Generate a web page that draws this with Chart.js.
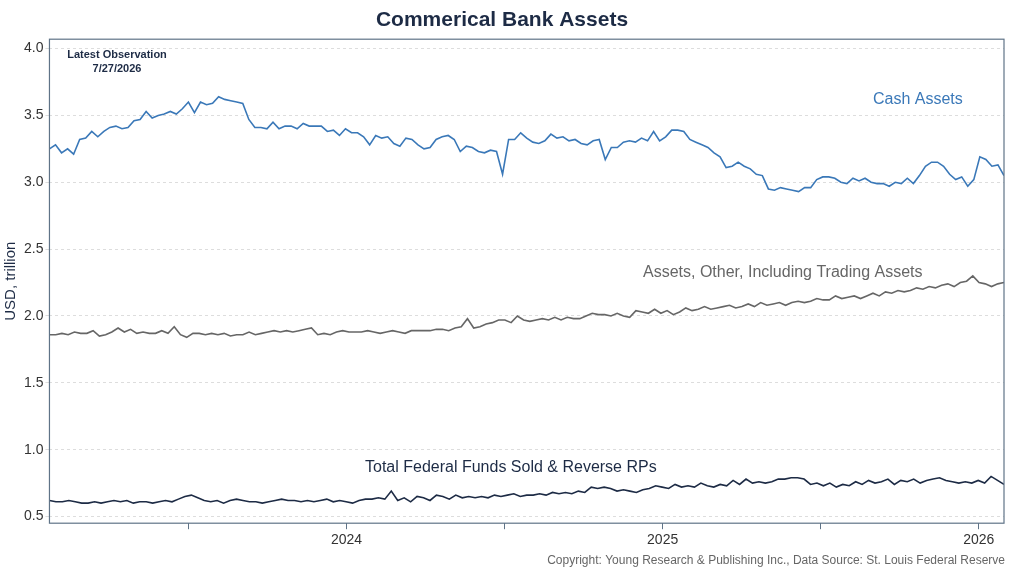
<!DOCTYPE html>
<html>
<head>
<meta charset="utf-8">
<script src="https://cdn.jsdelivr.net/npm/chart.js@4"></script>
<style>
  body { margin: 0; background: #fff; }
  #wrap { width: 1024px; height: 576px; }
</style>
</head>
<body>
<div id="wrap"><canvas id="bankChart" width="1024" height="576"></canvas></div>
<script>
// Weekly values, USD trillion
const cashAssets = [3.25,3.28,3.22,3.25,3.21,3.32,3.33,3.38,3.34,3.38,3.41,3.42,3.40,3.41,3.46,3.47,3.53,3.48,3.50,3.51,3.53,3.51,3.55,3.60,
  3.52,3.60,3.58,3.59,3.64,3.62,3.61,3.60,3.59,3.47,3.41,3.41,3.40,3.45,3.40,3.42,3.42,3.40,3.44,3.42,3.42,3.42,3.38,3.39,3.35,3.40,
  3.37,3.37,3.34,3.28,3.35,3.33,3.34,3.29,3.27,3.33,3.32,3.28,3.25,3.26,3.32,3.34,3.35,3.32,3.23,3.27,3.26,3.23,3.22,3.24,3.23,3.06,
  3.32,3.32,3.37,3.33,3.30,3.29,3.31,3.36,3.33,3.34,3.31,3.32,3.29,3.28,3.31,3.32,3.17,3.26,3.26,3.30,3.31,3.30,3.33,3.31,3.38,3.31,
  3.34,3.39,3.39,3.38,3.32,3.30,3.28,3.26,3.22,3.19,3.11,3.12,3.15,3.12,3.10,3.06,3.05,2.95,2.94,2.96,2.95,2.94,2.93,2.96,2.96,3.02,
  3.04,3.04,3.03,3.00,2.99,3.03,3.01,3.03,3.00,2.99,2.99,2.97,3.00,2.99,3.03,2.99,3.05,3.12,3.15,3.15,3.12,3.06,3.02,3.04,2.97,3.02,
  3.19,3.17,3.12,3.13,3.05];

const otherAssets = [1.86,1.86,1.87,1.86,1.88,1.87,1.87,1.89,1.85,1.86,1.88,1.91,1.88,1.90,1.87,1.88,1.87,1.87,1.89,1.87,1.92,1.86,1.84,1.87,
  1.87,1.86,1.87,1.86,1.87,1.85,1.86,1.86,1.88,1.86,1.87,1.88,1.89,1.88,1.89,1.88,1.89,1.90,1.91,1.86,1.87,1.86,1.88,1.89,1.88,1.88,
  1.88,1.89,1.88,1.87,1.88,1.89,1.88,1.87,1.89,1.89,1.89,1.89,1.90,1.90,1.89,1.91,1.92,1.98,1.91,1.92,1.94,1.95,1.97,1.97,1.95,2.00,
  1.97,1.96,1.97,1.98,1.97,1.99,1.97,1.99,1.98,1.98,2.00,2.02,2.01,2.01,2.00,2.02,2.00,1.99,2.04,2.03,2.02,2.05,2.02,2.04,2.01,2.03,
  2.06,2.04,2.05,2.07,2.05,2.06,2.07,2.08,2.06,2.07,2.09,2.07,2.10,2.08,2.09,2.10,2.08,2.10,2.11,2.10,2.11,2.13,2.12,2.12,2.15,2.13,
  2.14,2.15,2.13,2.15,2.17,2.15,2.18,2.17,2.19,2.18,2.19,2.21,2.20,2.22,2.21,2.23,2.24,2.22,2.25,2.26,2.30,2.25,2.24,2.22,2.24,2.25];

const fedFunds = [0.62,0.61,0.61,0.62,0.61,0.60,0.60,0.61,0.60,0.61,0.62,0.61,0.62,0.60,0.61,0.61,0.60,0.61,0.62,0.61,0.63,0.65,0.66,0.64,
  0.62,0.61,0.62,0.60,0.62,0.63,0.62,0.61,0.61,0.60,0.61,0.62,0.63,0.62,0.62,0.61,0.62,0.61,0.62,0.63,0.61,0.62,0.61,0.60,0.62,0.63,
  0.63,0.64,0.63,0.69,0.62,0.64,0.61,0.65,0.64,0.62,0.66,0.65,0.63,0.66,0.64,0.65,0.64,0.65,0.64,0.66,0.65,0.66,0.67,0.65,0.66,0.66,
  0.67,0.66,0.68,0.67,0.68,0.67,0.69,0.68,0.72,0.71,0.72,0.71,0.69,0.70,0.69,0.68,0.70,0.71,0.73,0.72,0.71,0.74,0.72,0.73,0.72,0.75,
  0.73,0.72,0.74,0.73,0.77,0.74,0.78,0.75,0.76,0.75,0.76,0.78,0.78,0.79,0.79,0.78,0.74,0.75,0.73,0.75,0.72,0.74,0.73,0.76,0.74,0.77,
  0.75,0.76,0.78,0.74,0.77,0.76,0.78,0.75,0.77,0.78,0.79,0.77,0.76,0.75,0.76,0.75,0.77,0.75,0.80,0.77,0.74];

// x axis in fractional years, each series spans the same dates
const xStart = 2023.06, xEnd = 2026.08;
function toPoints(values) {
  return values.map((v, i) => ({ x: xStart + i * (xEnd - xStart) / (values.length - 1), y: v }));
}

// labels, footer, observation note
const annotations = {
  id: 'annotations',
  afterDraw(chart) {
    const { ctx, chartArea } = chart;
    ctx.save();
    ctx.strokeStyle = '#5f7387';
    ctx.lineWidth = 1.2;
    ctx.strokeRect(chartArea.left, chartArea.top, chartArea.right - chartArea.left, chartArea.bottom - chartArea.top);
    ctx.font = '16px Arial, "Liberation Sans"';
    ctx.fillStyle = '#3a78b8';
    ctx.textAlign = 'left';
    ctx.fillText('Cash Assets', 873, 104);
    ctx.fillStyle = '#666';
    ctx.fillText('Assets, Other, Including Trading Assets', 643, 277);
    ctx.fillStyle = '#1d2b45';
    ctx.fillText('Total Federal Funds Sold & Reverse RPs', 365, 472);
    ctx.font = 'bold 11px Arial, "Liberation Sans"';
    ctx.textAlign = 'center';
    ctx.fillText('Latest Observation', 117, 58);
    ctx.fillText('7/27/2026', 117, 72);
    ctx.font = '12px Arial, "Liberation Sans"';
    ctx.fillStyle = '#666';
    ctx.textAlign = 'right';
    ctx.fillText('Copyright: Young Research & Publishing Inc., Data Source: St. Louis Federal Reserve', 1005, 564);
    ctx.restore();
  }
};

const lineStyle = { fill: false, pointRadius: 0, borderWidth: 1.6, tension: 0 };
new Chart(document.getElementById('bankChart').getContext('2d'), {
  type: 'line',
  data: {
    datasets: [
      { ...lineStyle, label: 'Cash Assets', data: toPoints(cashAssets), borderColor: '#3a78b8' },
      { ...lineStyle, label: 'Assets, Other', data: toPoints(otherAssets), borderColor: '#666666' },
      { ...lineStyle, label: 'Fed Funds', data: toPoints(fedFunds), borderColor: '#1d2b45' }
    ]
  },
  plugins: [annotations],
  options: {
    responsive: false,
    animation: false,
    layout: { padding: { left: 0, right: 20, top: 0, bottom: 24 } },
    plugins: {
      legend: { display: false },
      tooltip: { enabled: false },
      title: {
        display: true,
        text: 'Commerical Bank Assets',
        color: '#1d2b45',
        font: { size: 21, weight: 'bold', family: 'Arial, "Liberation Sans"' },
        padding: { top: 8, bottom: 6 }
      }
    },
    scales: {
      x: {
        type: 'linear',
        min: xStart, max: xEnd,
        afterBuildTicks(axis) {
          axis.ticks = [2023.5, 2024, 2024.5, 2025, 2025.5, 2026].map(v => ({ value: v }));
        },
        grid: { drawOnChartArea: false, drawTicks: true, tickLength: 6, color: '#5f7387' },
        border: { display: false },
        ticks: {
          color: '#333', font: { size: 14, family: 'Arial, "Liberation Sans"' },
          callback: v => Number.isInteger(v) ? String(v) : ''
        }
      },
      y: {
        min: 0.45, max: 4.07,
        afterBuildTicks(axis) {
          axis.ticks = [0.5,1.0,1.5,2.0,2.5,3.0,3.5,4.0].map(v => ({ value: v }));
        },
        title: { display: true, text: 'USD, trillion', color: '#1d2b45', padding: 2, font: { size: 15, family: 'Arial, "Liberation Sans"' } },
        grid: { color: '#ddd', tickLength: 4, drawTicks: true },
        border: { display: false, dash: [3, 3] },
        ticks: { color: '#333', padding: 2, font: { size: 14, family: 'Arial, "Liberation Sans"' }, callback: v => v.toFixed(1) }
      }
    }
  }
});
</script>
</body>
</html>
